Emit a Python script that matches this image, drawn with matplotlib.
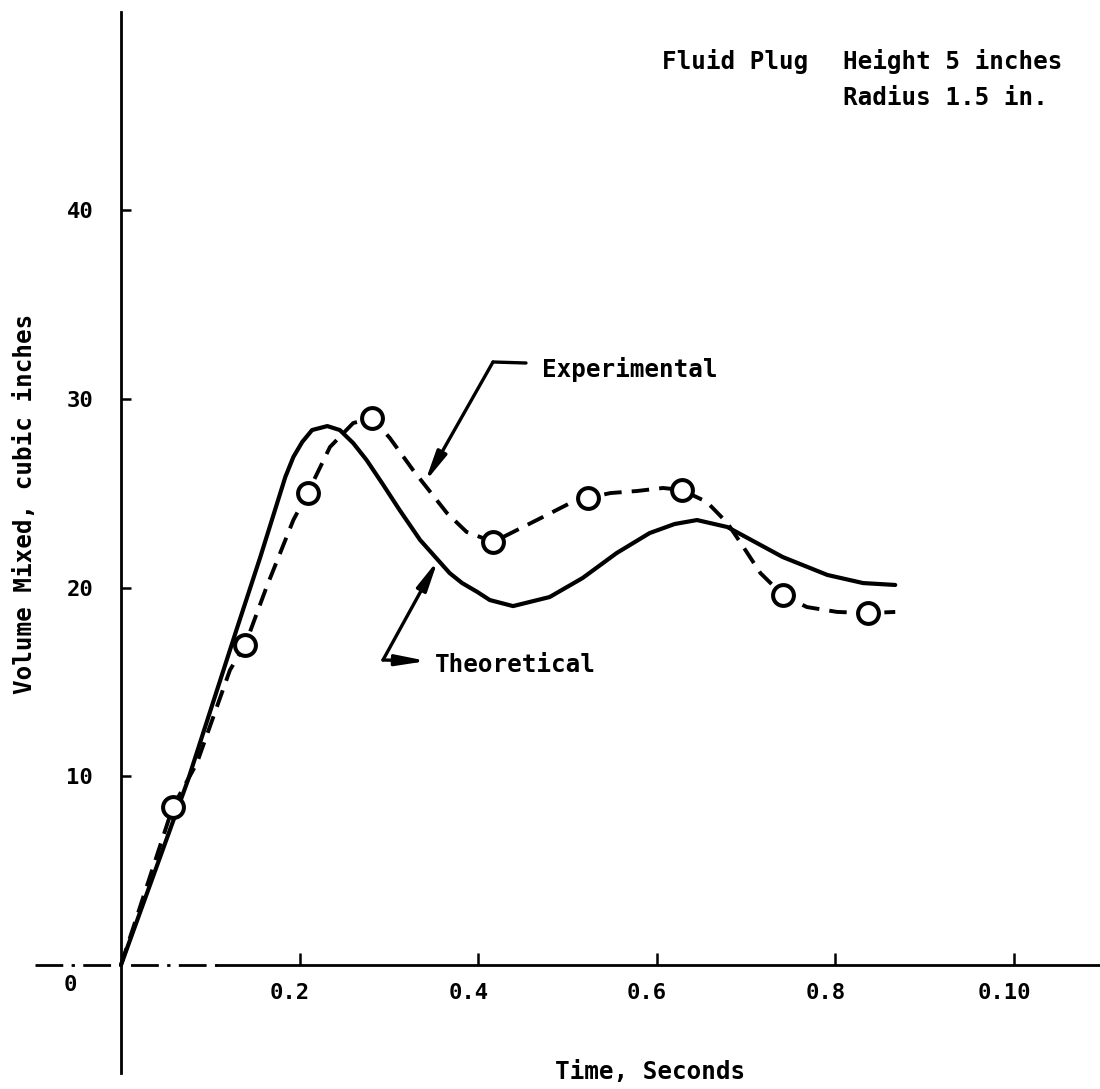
import matplotlib
matplotlib.use("Agg")
import matplotlib.pyplot as plt
from matplotlib.transforms import ScaledTranslation

# ---- data ----
theo_t = [0.0, 0.075, 0.130, 0.156, 0.184, 0.193, 0.203, 0.214, 0.231, 0.245,
          0.260, 0.275, 0.293, 0.312, 0.335, 0.355, 0.368, 0.382, 0.399, 0.413,
          0.439, 0.480, 0.517, 0.555, 0.592, 0.620, 0.645, 0.679, 0.741, 0.791,
          0.831, 0.867]
theo_v = [0.0, 9.80, 17.86, 21.62, 25.86, 26.92, 27.72, 28.35, 28.56, 28.35,
          27.66, 26.76, 25.49, 24.11, 22.52, 21.46, 20.77, 20.24, 19.77, 19.34,
          19.02, 19.50, 20.51, 21.83, 22.89, 23.37, 23.58, 23.21, 21.62, 20.67,
          20.24, 20.14]

exp_t = [0.058, 0.139, 0.209, 0.281, 0.417, 0.523, 0.628, 0.741, 0.837]
exp_v = [8.37, 16.96, 25.01, 28.99, 22.42, 24.75, 25.17, 19.61, 18.65]

exp_curve_t = [0.0, 0.058, 0.085, 0.122, 0.139, 0.163, 0.193, 0.209, 0.234, 0.260,
               0.281, 0.301, 0.327, 0.365, 0.387, 0.417, 0.477, 0.503, 0.523, 0.548,
               0.578, 0.607, 0.628, 0.656, 0.679, 0.697, 0.716, 0.741, 0.768, 0.802,
               0.837, 0.867]
exp_curve_v = [0.0, 8.37, 10.70, 15.63, 16.96, 20.03, 23.58, 25.01, 27.45, 28.72,
               28.99, 27.93, 26.23, 23.95, 22.95, 22.42, 23.85, 24.48, 24.75, 25.01,
               25.12, 25.28, 25.17, 24.54, 23.42, 22.15, 20.77, 19.61, 18.97, 18.71,
               18.65, 18.71]

x_ticks = [0.2, 0.4, 0.6, 0.8, 1.0]
x_tick_labels = ["0.2", "0.4", "0.6", "0.8", "0.10"]
y_ticks = [10, 20, 30, 40]
y_tick_labels = ["10", "20", "30", "40"]

# ---- figure ----
W, H = 1100, 1089
FONT = "DejaVu Sans Mono"
plt.rcParams["font.family"] = [FONT]
plt.rcParams["font.weight"] = "bold"

fig = plt.figure(figsize=(W / 100, H / 100), dpi=100)
ax = fig.add_axes([0, 0, 1, 1])
SX, X0 = 893.0, 121.0
SY, Y0 = 18.87, 965.0
ax.set_xlim(-X0 / SX, (W - X0) / SX)
ax.set_ylim((Y0 - H) / SY, Y0 / SY)

for s in ["top", "right"]:
    ax.spines[s].set_visible(False)
ax.spines["left"].set_position(("data", 0))
ax.spines["bottom"].set_position(("data", 0))
ax.spines["left"].set_bounds((Y0 - 1073) / SY, (Y0 - 12) / SY)
ax.spines["bottom"].set_bounds((217 - X0) / SX, (W - X0) / SX)
ax.spines["left"].set_linewidth(2.0)
ax.spines["bottom"].set_linewidth(2.0)
ax.patch.set_visible(False)

# dash-dot left part of the time axis
ax.plot([(35 - X0) / SX, (217 - X0) / SX], [0, 0], color="black", lw=2.0,
        ls=(0, (10, 3, 1.2, 3)), solid_capstyle="butt", zorder=2)

ax.set_xticks(x_ticks)
ax.set_xticklabels(x_tick_labels)
ax.set_yticks(y_ticks)
ax.set_yticklabels(y_tick_labels)
ax.tick_params(axis="x", direction="in", length=8.5, width=1.8, pad=13,
               labelsize=16)
ax.tick_params(axis="y", direction="in", length=7.5, width=1.8, pad=20,
               labelsize=16)
for lab in ax.get_xticklabels():
    lab.set_transform(lab.get_transform() + ScaledTranslation(-0.10, 0, fig.dpi_scale_trans))

# curves
ax.plot(theo_t, theo_v, color="black", lw=3.0, solid_capstyle="round",
        solid_joinstyle="round", zorder=3)
ax.plot(exp_curve_t, exp_curve_v, color="black", lw=2.8, ls=(0, (4.5, 2.6)),
        zorder=3)
ax.plot(exp_t, exp_v, ls="none", marker="o", ms=15, mew=2.9,
        mfc="white", mec="black", zorder=4)


def fp(px, py):
    return (px, H - py)


def ftext(px, py, s, size=17.5, ha="left", va="center", rot=0):
    fig.text(px / W, 1 - py / H, s, fontsize=size, ha=ha, va=va,
             rotation=rot, fontweight="bold", family=FONT)


# texts
ftext(70, 985, "0", size=16, ha="center")
ftext(650, 1072, "Time, Seconds", ha="center")
ftext(25, 504, "Volume Mixed, cubic inches", ha="center", rot=90)
ftext(662, 62, "Fluid Plug")
ftext(843, 62, "Height 5 inches")
ftext(843, 98, "Radius 1.5 in.")
ftext(542, 370, "Experimental")
ftext(435, 665, "Theoretical")

arrow_kw = dict(arrowstyle="-|>,head_length=0.9,head_width=0.16", color="black",
                lw=2.4, mutation_scale=20, shrinkA=0, shrinkB=0)
line_kw = dict(arrowstyle="-", color="black", lw=2.4, shrinkA=0, shrinkB=0)

# Experimental leader
ax.annotate("", xy=fp(493, 362), xytext=fp(526, 363), xycoords="figure pixels",
            textcoords="figure pixels", arrowprops=line_kw)
ax.annotate("", xy=fp(425, 482), xytext=fp(493, 362), xycoords="figure pixels",
            textcoords="figure pixels", arrowprops=arrow_kw)
# Theoretical leader
ax.annotate("", xy=fp(438, 560), xytext=fp(383, 660), xycoords="figure pixels",
            textcoords="figure pixels", arrowprops=arrow_kw)
ax.annotate("", xy=fp(427, 661), xytext=fp(383, 660), xycoords="figure pixels",
            textcoords="figure pixels", arrowprops=arrow_kw)

fig.savefig("out.png", dpi=100)
